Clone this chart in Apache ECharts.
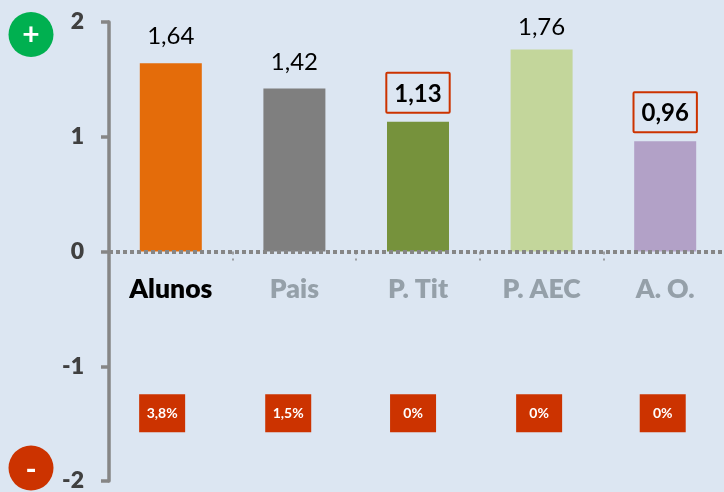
<!DOCTYPE html>
<html><head><meta charset="utf-8">
<style>html,body{margin:0;padding:0;background:#DCE6F2}#c{width:724px;height:492px}</style>
<script src="https://cdn.jsdelivr.net/npm/echarts@6/dist/echarts.min.js"></script>
</head><body><div id="c"></div>
<script>
var categories = ['Alunos','Pais','P. Tit','P. AEC','A. O.'];
var values = [1.64,1.42,1.13,1.76,0.96];
var barColors = ['#E46C0A','#7F7F7F','#76923C','#C3D69B','#B2A1C7'];
var categoryColors = ['#000000','#95A0A9','#95A0A9','#95A0A9','#95A0A9'];
var boxedValues = [false,false,true,false,true];
var labelGaps = [15,14,9,10,9];
var pctLabels = ['3,8%','1,5%','0%','0%','0%'];
var pctPositions = [-0.07,0.95,1.96,2.98,3.98];
var pctLevel = -1.41;
var yTicks = [-2,-1,0,1,2];
function fmt(v){return v.toFixed(2).replace('.',',');}
var chart = echarts.init(document.getElementById('c'),null,{renderer:'canvas'});
chart.setOption({
  animation:false,
  backgroundColor:'#DCE6F2',
  textStyle:{fontFamily:'Lato'},
  grid:{left:109,right:-3,top:22,bottom:11,containLabel:false,outerBoundsMode:'none'},
  xAxis:[{
    type:'category',z:5,data:categories.map(function(c,i){return {value:c,textStyle:{color:categoryColors[i]}};}),
    axisLine:{onZero:true,lineStyle:{color:'#868686',width:4,type:[4,3],cap:'butt'}},
    axisTick:{show:true,length:9,lineStyle:{color:'#868686',width:1.5,type:[3,4,2,10]}},
    axisLabel:{fontFamily:'Lato',fontWeight:800,fontSize:26.5,margin:-205,interval:0},
    splitLine:{show:false}
  },{
    type:'value',min:-0.5,max:4.5,show:false,position:'top'
  }],
  yAxis:{
    type:'value',min:yTicks[0],max:yTicks[4],interval:1,
    axisLine:{show:true,onZero:false,lineStyle:{color:'#868686',width:3.5}},
    axisTick:{show:true,length:8,lineStyle:{color:'#868686',width:3.5}},
    axisLabel:{fontFamily:'Lato',fontWeight:800,fontSize:23,color:'#404040',margin:25},
    splitLine:{show:false}
  },
  series:[{
    type:'bar',barWidth:62,z:1,
    data:values.map(function(v,i){
      var boxed=boxedValues[i];
      var lab={distance:labelGaps[i]};
      if(boxed){lab.fontWeight='bold';lab.borderColor='#CC3300';lab.borderWidth=2;lab.padding=[9,8,7,8];lab.borderRadius=1;}
      return {value:v,itemStyle:{color:barColors[i]},label:lab};
    }),
    label:{show:true,position:'top',fontFamily:'Lato',fontSize:24,color:'#000',formatter:function(p){return fmt(p.value);}}
  },{
    type:'scatter',xAxisIndex:1,symbol:'rect',symbolSize:[46,38],z:3,
    itemStyle:{color:'#CC3300',opacity:1},
    data:pctPositions.map(function(x,i){return {value:[x,pctLevel],name:pctLabels[i]};}),
    label:{show:true,position:'inside',fontFamily:'Lato',fontWeight:'bold',fontSize:14,color:'#fff',formatter:function(p){return p.name;}}
  }],
  graphic:[
    {type:'circle',shape:{cx:31,cy:34.5,r:22.5},style:{fill:'#00B050'},z:5},
    {type:'text',x:31,y:35,style:{text:'+',fill:'#fff',font:'bold 30px Lato',align:'center',verticalAlign:'middle'},z:6},
    {type:'circle',shape:{cx:31,cy:468,r:22.5},style:{fill:'#CC3300'},z:5},
    {type:'text',x:31,y:470,style:{text:'-',fill:'#fff',font:'bold 30px Lato',align:'center',verticalAlign:'middle'},z:6}
  ]
});
</script></body></html>
